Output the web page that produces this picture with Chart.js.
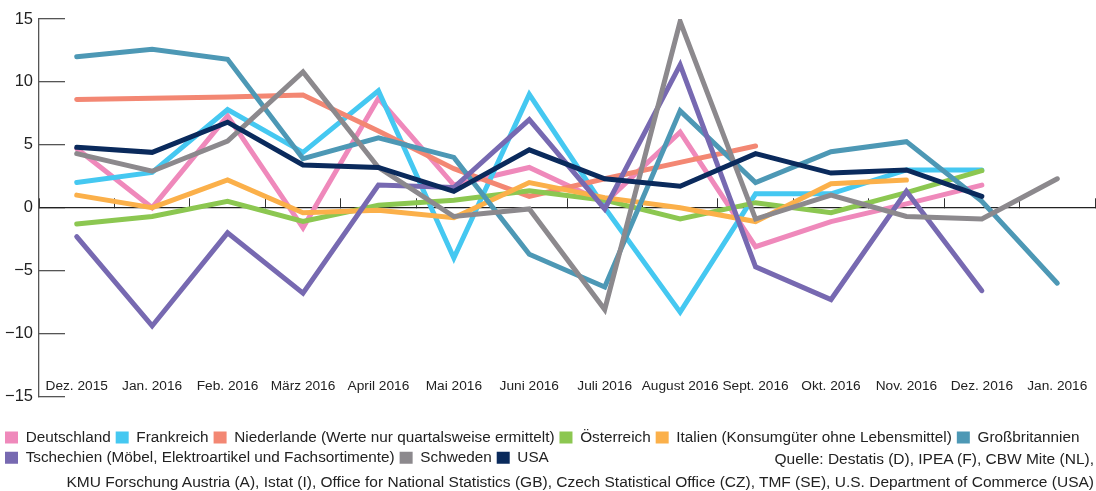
<!DOCTYPE html>
<html>
<head>
<meta charset="utf-8">
<script src="https://cdn.jsdelivr.net/npm/chart.js@4"></script>
<style>
  body { margin: 0; background: #fff; }
  .wrap { position: relative; width: 1096px; height: 491px; }
  .src { position: absolute; right: 2px; font: 15.5px "Liberation Sans", Arial, sans-serif; color: #222; white-space: nowrap; line-height: 20px; }
</style>
</head>
<body>
<div class="wrap">
  <canvas id="chart" width="1096" height="491"></canvas>
  <div class="src" style="top:449px">Quelle: Destatis (D), IPEA (F), CBW Mite (NL),</div>
  <div class="src" style="top:472px">KMU Forschung Austria (A), Istat (I), Office for National Statistics (GB), Czech Statistical Office (CZ), TMF (SE), U.S. Department of Commerce (USA)</div>
</div>
<script>
const months = ['Dez. 2015', 'Jan. 2016', 'Feb. 2016', 'März 2016', 'April 2016', 'Mai 2016', 'Juni 2016',
  'Juli 2016', 'August 2016', 'Sept. 2016', 'Okt. 2016', 'Nov. 2016', 'Dez. 2016', 'Jan. 2016'];
const yTicks = [-15, -10, -5, 0, 5, 10, 15];

const deutschland = [4.7, 0.0, 7.3, -1.6, 8.7, 1.8, 3.2, 0.4, 6.0, -3.1, -1.1, 0.3, 1.8, null];
const frankreich = [2.0, 2.8, 7.8, 4.4, 9.3, -4.0, 9.0, 0.0, -8.3, 1.1, 1.1, 3.0, 3.0, null];
const niederlande = [8.6, 8.7, 8.8, 8.95, 6.1, 3.1, 0.9, 2.3, 3.6, 4.9, null, null, null, null];
const oesterreich = [-1.3, -0.7, 0.5, -1.1, 0.2, 0.6, 1.35, 0.6, -0.9, 0.4, -0.4, 1.2, 2.95, null];
const italien = [1.0, 0.0, 2.2, -0.4, -0.2, -0.8, 2.0, 0.8, 0.0, -1.1, 1.9, 2.2, null, null];
const grossbritannien = [12.0, 12.6, 11.8, 3.9, 5.55, 4.0, -3.7, -6.3, 7.7, 2.0, 4.45, 5.25, 0.5, -6.0];
const tschechien = [-2.3, -9.4, -2.0, -6.8, 1.8, 1.6, 7.0, -0.1, 11.35, -4.7, -7.3, 1.3, -6.6, null];
const schweden = [4.3, 2.9, 5.3, 10.8, 3.2, -0.7, -0.1, -8.1, 14.8, -0.9, 1.0, -0.7, -0.9, 2.3];
const usa = [4.8, 4.4, 6.8, 3.4, 3.2, 1.3, 4.6, 2.3, 1.7, 4.3, 2.75, 3.0, 0.9, null];

const series = [
  ['Deutschland', deutschland, '#ef89bb'],
  ['Frankreich', frankreich, '#45c8f1'],
  ['Niederlande (Werte nur quartalsweise ermittelt)', niederlande, '#f38773'],
  ['Österreich', oesterreich, '#8cc751'],
  ['Italien (Konsumgüter ohne Lebensmittel)', italien, '#fbb04a'],
  ['Großbritannien', grossbritannien, '#4d98b5'],
  ['Tschechien (Möbel, Elektroartikel und Fachsortimente)', tschechien, '#7769b1'],
  ['Schweden', schweden, '#8c898d'],
  ['USA', usa, '#0a2a5c']
];

const fontName = '"Liberation Sans", Arial, sans-serif';

new Chart(document.getElementById('chart'), {
  type: 'line',
  data: {
    labels: months,
    datasets: series.map(([label, data, color], i) => ({
      label: label,
      data: data,
      borderColor: color,
      backgroundColor: color,
      borderWidth: 5,
      borderCapStyle: 'round',
      pointRadius: 0,
      tension: 0,
      order: series.length - i
    }))
  },
  options: {
    responsive: false,
    animation: false,
    layout: { padding: { top: 19, right: 1, bottom: 15.5, left: 0 } },
    plugins: {
      tooltip: { enabled: false },
      legend: {
        position: 'bottom',
        align: 'start',
        labels: {
          boxWidth: 13,
          boxHeight: 12,
          padding: 5,
          color: '#222',
          font: { family: fontName, size: 15.3 },
          sort: (a, b) => a.datasetIndex - b.datasetIndex,
          generateLabels: chart => Chart.defaults.plugins.legend.labels.generateLabels(chart)
            .map(item => Object.assign(item, { lineWidth: 0 }))
        }
      }
    },
    scales: {
      x: {
        type: 'category',
        offset: true,
        grid: { display: false },
        border: { display: false },
        ticks: {
          mirror: true,
          padding: 2,
          maxRotation: 0,
          autoSkip: false,
          color: '#222',
          font: { family: fontName, size: 13.7 }
        },
        afterFit: scale => {
          scale.height = 28.5;
          scale.paddingLeft = 0;
          scale.paddingRight = 0;
        }
      },
      x2: {
        type: 'category',
        labels: months,
        offset: true,
        position: { y: 0 },
        grid: { offset: true, drawOnChartArea: false, drawTicks: true, tickLength: -10, color: '#333', lineWidth: 1 },
        border: { display: true, color: '#222', width: 1.3 },
        ticks: { display: false }
      },
      y: {
        min: -15,
        max: 15,
        afterBuildTicks: scale => { scale.ticks = yTicks.map(v => ({ value: v })); },
        grid: { drawOnChartArea: false, drawTicks: true, tickLength: -26, color: '#555', lineWidth: 1.3 },
        border: { display: true, color: '#555', width: 1.3 },
        ticks: {
          padding: 32,
          color: '#222',
          font: { family: fontName, size: 16.5 },
          callback: v => v < 0 ? '\u2212' + Math.abs(v) : String(v)
        },
        afterFit: scale => {
          scale.width = 39;
          scale.paddingTop = 0;
          scale.paddingBottom = 0;
        }
      }
    }
  }
});
</script>
</body>
</html>
